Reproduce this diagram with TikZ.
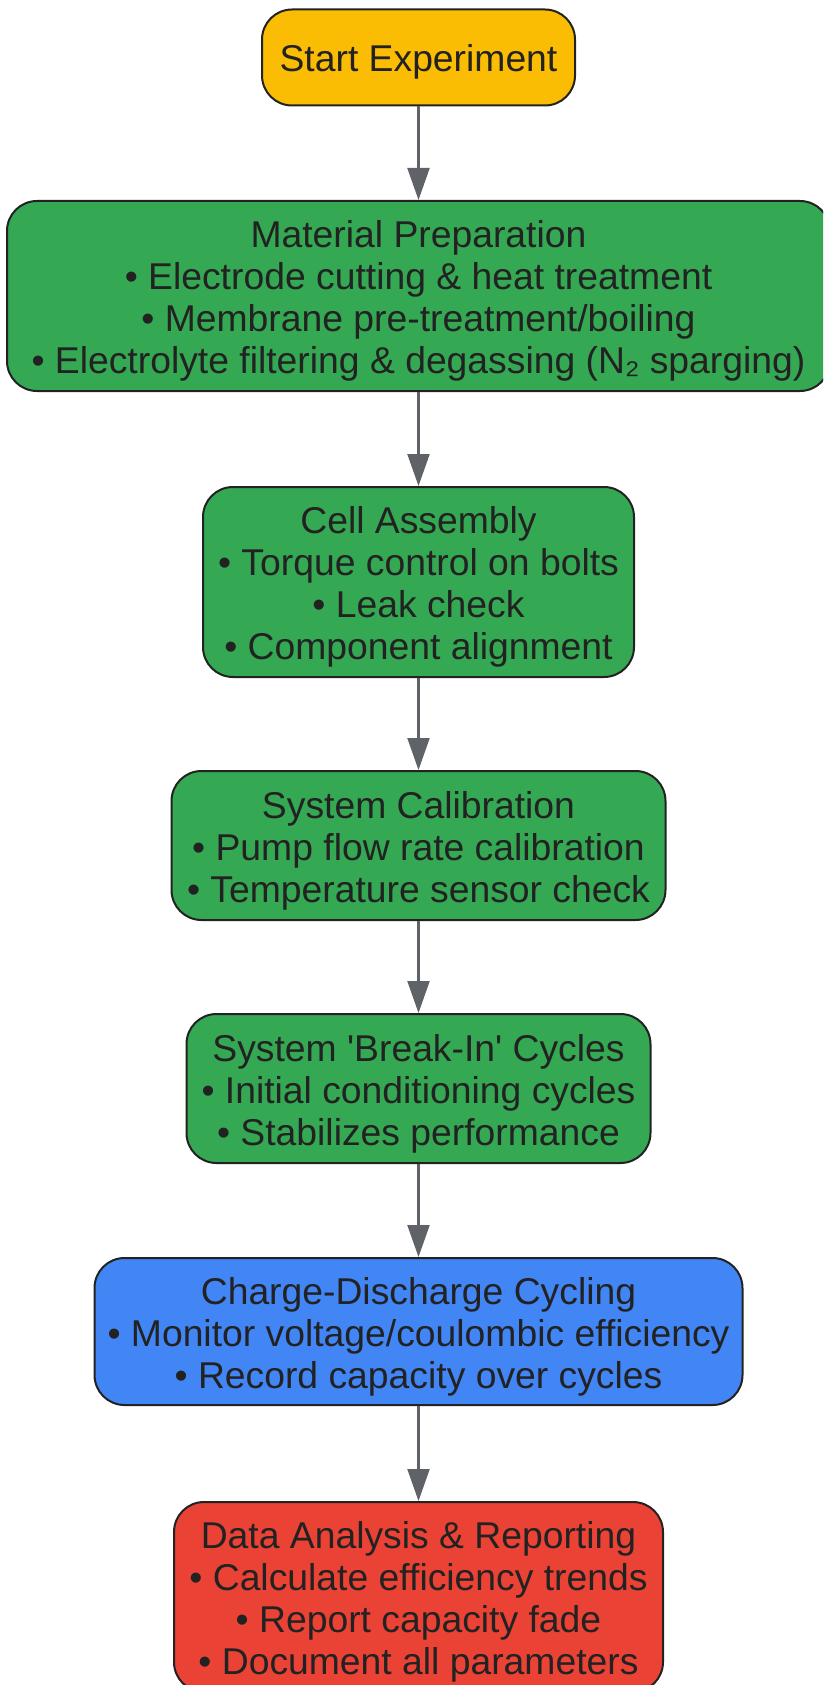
\documentclass[tikz,border=0pt]{standalone}
\usepackage{fontspec}
\setmainfont{Liberation Sans}[Ligatures=TeXOff]
\usetikzlibrary{arrows.meta}
\definecolor{cyellow}{HTML}{FBBC04}
\definecolor{cgreen}{HTML}{34A853}
\definecolor{cblue}{HTML}{4285F4}
\definecolor{cred}{HTML}{EA4335}
\definecolor{cborder}{HTML}{222222}
\definecolor{ctext}{HTML}{222222}
\definecolor{carrow}{HTML}{5F6368}
\newcommand\topst{\rule{0pt}{38pt}}
\newcommand\botst{\rule[-9pt]{0pt}{0pt}}
\tikzset{
  box/.style={draw=cborder, line width=2pt, rounded corners=30pt, align=center,
    text=ctext, inner sep=0pt, font=\fontsize{37.3}{42}\selectfont},
  flow/.style={draw=carrow, line width=2.2pt, -{Triangle[length=32pt,width=22pt]}}
}
\begin{document}
\begin{tikzpicture}[x=1pt,y=-1pt]
\useasboundingbox (0,0) rectangle (823,1685);
\clip (0,0) rectangle (823,1685);
\node[box, fill=cyellow, minimum width=313pt, minimum height=96pt] (start) at (418.5,57.5) {\topst Start Experiment\botst};
\node[box, fill=cgreen, minimum width=823pt, minimum height=190pt] (mat) at (418.5,296) {\topst Material Preparation\\• Electrode cutting \& heat treatment\\• Membrane pre-treatment/boiling\\• Electrolyte filtering \& degassing (N₂ sparging)\botst};
\node[box, fill=cgreen, minimum width=431pt, minimum height=190pt] (cell) at (418.5,582) {\topst Cell Assembly\\• Torque control on bolts\\• Leak check\\• Component alignment\botst};
\node[box, fill=cgreen, minimum width=494pt, minimum height=149pt] (cal) at (418.5,845.5) {\topst System Calibration\\• Pump flow rate calibration\\• Temperature sensor check\botst};
\node[box, fill=cgreen, minimum width=464pt, minimum height=149pt] (brk) at (418.5,1088.5) {\topst System 'Break-In' Cycles\\• Initial conditioning cycles\\• Stabilizes performance\botst};
\node[box, fill=cblue, minimum width=648pt, minimum height=147pt] (chg) at (418.5,1331.5) {\topst Charge-Discharge Cycling\\• Monitor voltage/coulombic efficiency\\• Record capacity over cycles\botst};
\node[box, fill=cred, minimum width=489pt, minimum height=190pt] (data) at (418.5,1597) {\topst Data Analysis \& Reporting\\• Calculate efficiency trends\\• Report capacity fade\\• Document all parameters\botst};
\draw[flow] (start) -- (mat);
\draw[flow] (mat) -- (cell);
\draw[flow] (cell) -- (cal);
\draw[flow] (cal) -- (brk);
\draw[flow] (brk) -- (chg);
\draw[flow] (chg) -- (data);
\end{tikzpicture}
\end{document}
